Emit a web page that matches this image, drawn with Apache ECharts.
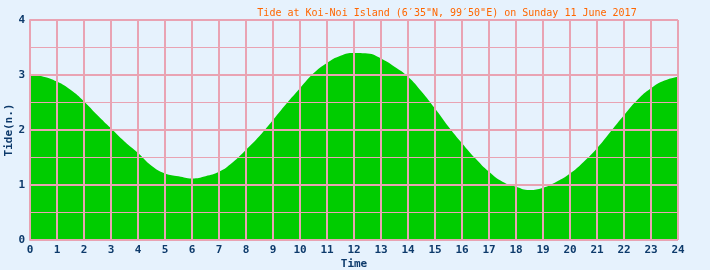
<!DOCTYPE html>
<html><head><meta charset="utf-8">
<script src="https://cdn.jsdelivr.net/npm/echarts@6/dist/echarts.min.js"></script>
<style>html,body{margin:0;padding:0;background:#e6f2fd;}#c{width:710px;height:270px;}</style>
</head><body><div id="c"></div>
<script>
var hours = [0,0.5,1,1.5,2,2.5,3,3.5,4,4.5,5,5.5,6,6.5,7,7.5,8,8.5,9,9.5,10,10.5,11,11.5,12,12.5,13,13.5,14,14.5,15,15.5,16,16.5,17,17.5,18,18.5,19,19.5,20,20.5,21,21.5,22,22.5,23,23.5,24];
var tide = [3.0,2.97,2.88,2.73,2.52,2.27,2.03,1.79,1.58,1.35,1.21,1.16,1.12,1.16,1.24,1.41,1.64,1.89,2.18,2.48,2.76,3.03,3.22,3.35,3.40,3.39,3.30,3.15,2.97,2.70,2.39,2.06,1.76,1.48,1.24,1.06,0.97,0.91,0.95,1.06,1.21,1.42,1.67,1.97,2.27,2.55,2.76,2.90,2.97];
var titleText = 'Tide at Koi-Noi Island (6\u203235"N, 99\u203250"E) on Sunday 11 June 2017';
var xName = 'Time';
var yName = 'Tide(n.)';

var pink = '#e9a3b3';
var navy = '#0d3a6b';
var mono = '"DejaVu Sans Mono", monospace';
var chart = echarts.init(document.getElementById('c'));
chart.setOption({
  backgroundColor: '#e6f2fd',
  animation: false,
  title: {text: titleText, left: 442, textAlign: 'center', top: 3,
    textStyle: {color: '#ff6600', fontFamily: mono, fontSize: 10, fontWeight: 'normal'}},
  grid: {left: 30, right: 32, top: 20, bottom: 30, containLabel: false, outerBoundsMode: 'none'},
  xAxis: {type: 'value', min: 0, max: 24, interval: 1, z: 3,
    name: xName, nameLocation: 'middle', nameGap: 19, nameMoveOverlap: false,
    nameTextStyle: {color: navy, fontFamily: mono, fontWeight: 'bold', fontSize: 11},
    axisLine: {show: false}, axisTick: {show: false},
    axisLabel: {color: navy, fontFamily: mono, fontWeight: 'bold', fontSize: 11, margin: 5},
    splitLine: {show: true, lineStyle: {color: pink, width: 2}}},
  yAxis: {type: 'value', min: 0, max: 4, interval: 1, z: 3,
    name: yName, nameLocation: 'middle', nameGap: 15, nameRotate: 90, nameMoveOverlap: false,
    nameTextStyle: {color: navy, fontFamily: mono, fontWeight: 'bold', fontSize: 11},
    axisLine: {show: true, lineStyle: {color: pink, width: 2}}, axisTick: {show: false},
    axisLabel: {color: navy, fontFamily: mono, fontWeight: 'bold', fontSize: 11, margin: 5},
    splitLine: {show: true, lineStyle: {color: pink, width: 2}},
    minorTick: {show: false, splitNumber: 2},
    minorSplitLine: {show: true, lineStyle: {color: pink, width: 1}}},
  series: [{type: 'line', data: hours.map(function(h, i){return [h, tide[i]];}),
    smooth: true, symbol: 'none', z: 2,
    lineStyle: {width: 0, color: '#00cc00'},
    areaStyle: {color: '#00cc00', opacity: 1}}]
});
</script></body></html>
